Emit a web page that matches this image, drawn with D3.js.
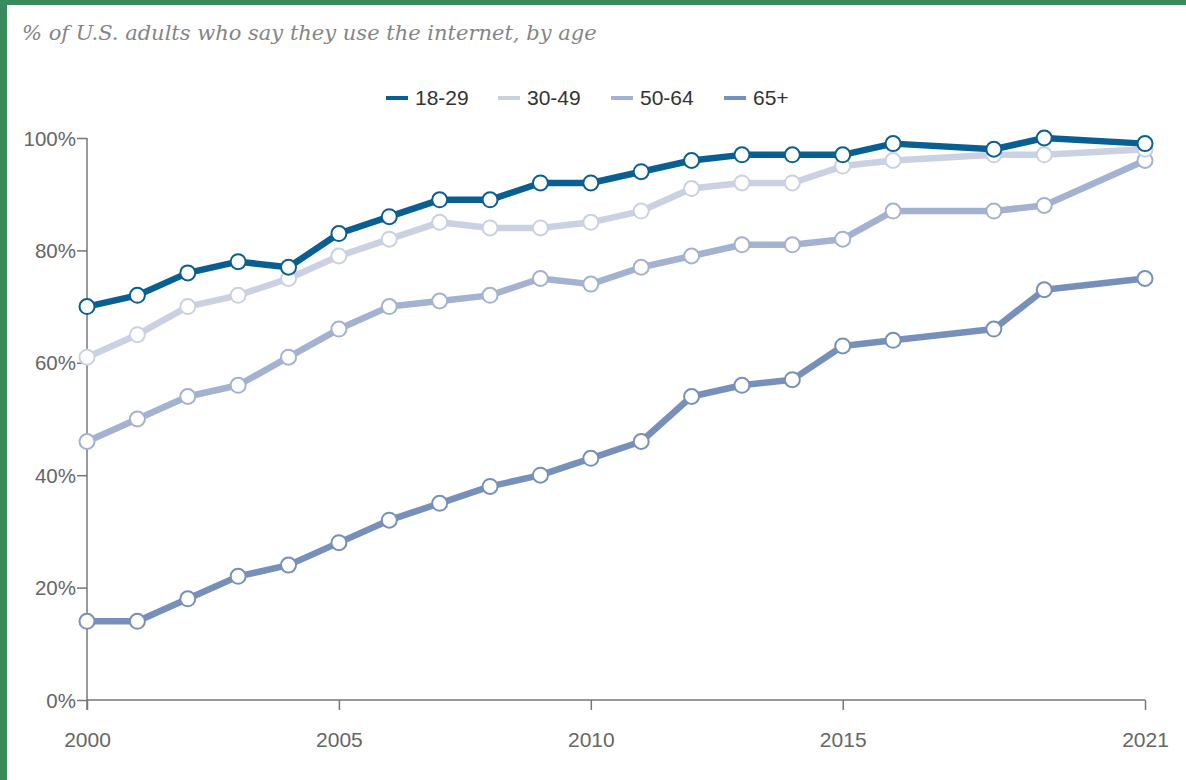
<!DOCTYPE html>
<html><head><meta charset="utf-8">
<script src="https://cdn.jsdelivr.net/npm/d3@7"></script>
<style>
html,body{margin:0;padding:0;background:#fff;}
svg{display:block;}
</style></head>
<body>
<script>
const years = [2000,2001,2002,2003,2004,2005,2006,2007,2008,2009,2010,2011,2012,2013,2014,2015,2016,2018,2019,2021];
const s18_29 = [70,72,76,78,77,83,86,89,89,92,92,94,96,97,97,97,99,98,100,99];
const s30_49 = [61,65,70,72,75,79,82,85,84,84,85,87,91,92,92,95,96,97,97,98];
const s50_64 = [46,50,54,56,61,66,70,71,72,75,74,77,79,81,81,82,87,87,88,96];
const s65 = [14,14,18,22,24,28,32,35,38,40,43,46,54,56,57,63,64,66,73,75];
const seriesNames = ["18-29","30-49","50-64","65+"];
const seriesColors = ["#0a5f92","#c9d1e2","#a3b2d1","#7690bb"];
const yTicks = [0,20,40,60,80,100];
const xTicks = [2000,2005,2010,2015,2021];
const title = "% of U.S. adults who say they use the internet, by age";

const W=1186,H=780;
const svg=d3.select("body").append("svg").attr("width",W).attr("height",H);
svg.append("rect").attr("width",W).attr("height",H).attr("fill","#fff");
// green frame
svg.append("rect").attr("x",0).attr("y",0).attr("width",W).attr("height",5).attr("fill","#3b8a5e");
svg.append("rect").attr("x",0).attr("y",0).attr("width",7).attr("height",H).attr("fill","#3b8a5e");

svg.append("text").attr("x",22).attr("y",40).text(title)
  .attr("font-family","DejaVu Serif").attr("font-style","italic").attr("font-size",21)
  .attr("fill","#858585");

const x=d3.scaleLinear().domain([2000,2021]).range([87,1145]);
const y=d3.scaleLinear().domain([0,100]).range([700,138]);

const tickFont="Liberation Sans, Arial, sans-serif";
// axes
const axisColor="#777";
const gy=svg.append("g").attr("transform","translate(87,0)")
  .call(d3.axisLeft(y).tickValues(yTicks).tickFormat(d=>d+"%").tickSize(10).tickPadding(1));
gy.select(".domain").attr("stroke",axisColor).attr("stroke-width",1.5).attr("d","M0,710V138");
gy.selectAll(".tick line").attr("stroke",axisColor).attr("stroke-width",1.5);
gy.selectAll(".tick text").attr("font-family",tickFont).attr("font-size",20.5).attr("fill","#666").attr("dy","0.35em");

const gx=svg.append("g").attr("transform","translate(0,700)")
  .call(d3.axisBottom(x).tickValues(xTicks).tickFormat(d3.format("d")).tickSize(10).tickPadding(22));
gx.select(".domain").attr("stroke",axisColor).attr("stroke-width",1.5).attr("d","M87,0H1145");
gx.selectAll(".tick line").attr("stroke",axisColor).attr("stroke-width",1.5);
gx.selectAll(".tick text").attr("font-family",tickFont).attr("font-size",21).attr("fill","#666");

const allSeries=[s18_29,s30_49,s50_64,s65];
const line=d3.line().x((d,i)=>x(years[i])).y(d=>y(d));
const order=[3,2,1,0];
order.forEach(k=>{
  svg.append("path").datum(allSeries[k]).attr("d",line)
    .attr("fill","none").attr("stroke",seriesColors[k]).attr("stroke-width",6.5)
    .attr("stroke-linejoin","round");
});
order.forEach(k=>{
  svg.append("g").selectAll("circle").data(allSeries[k]).join("circle")
    .attr("cx",(d,i)=>x(years[i])).attr("cy",d=>y(d)).attr("r",7.5)
    .attr("fill","#fff").attr("stroke",seriesColors[k]).attr("stroke-width",2);
});

// legend
const legX=[386,498,611,724];
seriesNames.forEach((n,i)=>{
  svg.append("line").attr("x1",legX[i]).attr("x2",legX[i]+22).attr("y1",98).attr("y2",98)
    .attr("stroke",seriesColors[i]).attr("stroke-width",4);
  svg.append("text").attr("x",legX[i]+29).attr("y",98).attr("dy","0.35em").text(n)
    .attr("font-family",tickFont).attr("font-size",21).attr("fill","#333");
});
</script>
</body></html>
